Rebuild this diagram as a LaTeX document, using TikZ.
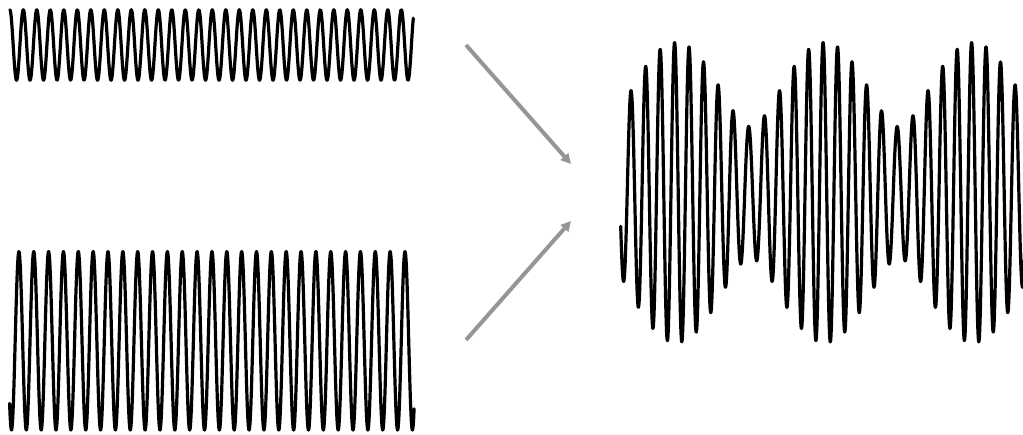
\documentclass[tikz,border=0pt]{standalone}
\usetikzlibrary{arrows.meta}
\definecolor{arrowgray}{RGB}{150,150,150}
\tikzset{
  wave/.style={line width=3.2pt, black, line join=round, line cap=round},
  feed/.style={line width=4pt, arrowgray, -{Triangle[length=10pt,width=10pt]}}
}
\begin{document}
\begin{tikzpicture}[x=1pt,y=-1pt]
\useasboundingbox (0,0) rectangle (1023,435);
% top wave (higher frequency, small amplitude)
\draw[wave] plot[domain=0:403.5, samples=1200] ({\x+9.8}, {45 - 35.2*cos(\x*26.6667)});
% bottom wave (lower frequency, large amplitude)
\draw[wave] plot[domain=0:404.5, samples=1200] ({\x+9.6}, {340.8 - 89.3*cos((\x-9.3)*24.2424)});
% sum (beats)
\begin{scope}
\clip (0,0) rectangle (1023,435);
\draw[wave] plot[domain=0:404.5, samples=1500] ({\x+620.7}, {192.6 - 42.1*cos(\x*26.6667) - 108.1*cos((\x-9.3)*24.2424)});
\end{scope}
% arrows
\coordinate (a1s) at (466,45);
\coordinate (a1e) at (571,164);
\coordinate (a2s) at (466,340);
\coordinate (a2e) at (571,221);
\draw[feed] (a1s) -- (a1e);
\draw[feed] (a2s) -- (a2e);
\end{tikzpicture}
\end{document}
